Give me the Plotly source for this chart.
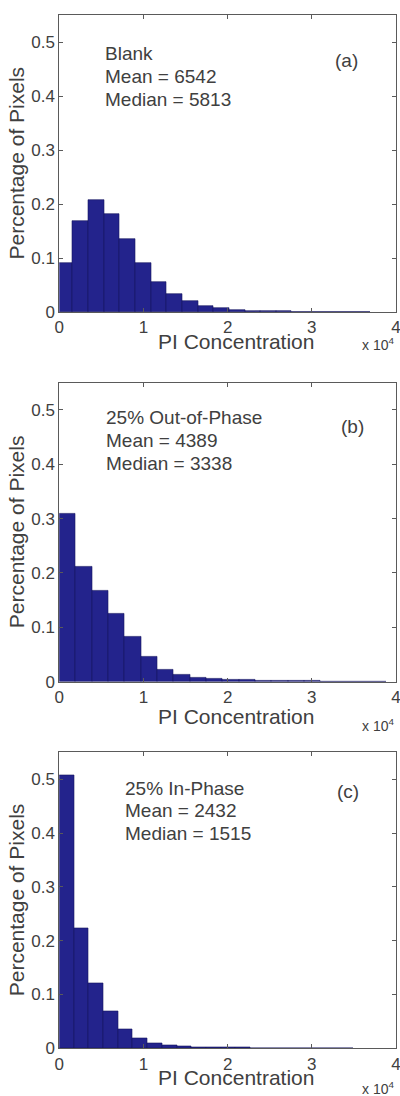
import plotly.graph_objects as go

# ---------------- data ----------------
centers_a = [650, 2510, 4370, 6230, 8090, 9950, 11810, 13670, 15530, 17390,
             19250, 21110, 22970, 24830, 26690, 28550, 30410, 32270, 34130, 35990]
values_a = [0.090, 0.168, 0.207, 0.181, 0.135, 0.090, 0.056, 0.033, 0.020, 0.012,
            0.007, 0.004, 0.0025, 0.0016, 0.0012, 0.0009, 0.0007, 0.0005, 0.0004, 0.0003]

centers_b = [970, 2910, 4850, 6790, 8730, 10670, 12610, 14550, 16490, 18430,
             20370, 22310, 24250, 26190, 28130, 30070, 32010, 33950, 35890, 37830]
values_b = [0.309, 0.212, 0.167, 0.125, 0.083, 0.046, 0.023, 0.0135, 0.008, 0.006,
            0.0043, 0.003, 0.002, 0.0015, 0.0012, 0.001, 0.0008, 0.0006, 0.0005, 0.0004]

centers_c = [873, 2618, 4363, 6108, 7853, 9598, 11343, 13088, 14833, 16578,
             18323, 20068, 21813, 23558, 25303, 27048, 28793, 30538, 32283, 34028]
values_c = [0.508, 0.223, 0.120, 0.068, 0.036, 0.0185, 0.009, 0.006, 0.003, 0.002,
            0.0015, 0.0012, 0.001, 0.0008, 0.0006, 0.0005, 0.0004, 0.0003, 0.0003, 0.0002]

labels_a = ["Blank", "Mean = 6542", "Median = 5813"]
labels_b = ["25% Out-of-Phase", "Mean = 4389", "Median = 3338"]
labels_c = ["25% In-Phase", "Mean = 2432", "Median = 1515"]
panel_tags = ["(a)", "(b)", "(c)"]

x_tickvals = [0, 10000, 20000, 30000, 40000]
x_ticktext = ["0", "1", "2", "3", "4"]
y_tickvals = [0, 0.1, 0.2, 0.3, 0.4, 0.5]
y_ticktext = ["0", "0.1", "0.2", "0.3", "0.4", "0.5"]

# ---------------- layout geometry (pixels) ----------------
W, H = 400, 1096
PL, PR = 59.3, 396.0
panels = [
    dict(top=15.0, bot=312.0, w=1860, ty=[53, 76, 99], tagy=60, tagx=34100, tx=5200,
         xt_y=341, e_y=344),
    dict(top=382.7, bot=681.7, w=1940, ty=[417.3, 440, 463.3], tagy=426.7, tagx=34800, tx=5320,
         xt_y=716, e_y=725),
    dict(top=752.3, bot=1048.3, w=1745, ty=[788.3, 810, 833.3], tagy=791.7, tagx=34300, tx=7580,
         xt_y=1077, e_y=1088),
]
centers = [centers_a, centers_b, centers_c]
values = [values_a, values_b, values_c]
labels = [labels_a, labels_b, labels_c]

FONT = "Liberation Sans, Arial, Helvetica, sans-serif"
TXT = "#404040"
BAR = "#23238c"
EDGE = "#16165e"
AX = "#5a5a5a"

fig = go.Figure()
ann = []
for i, p in enumerate(panels):
    sfx = "" if i == 0 else str(i + 1)
    fig.add_trace(go.Bar(
        x=centers[i], y=values[i], width=p["w"],
        marker=dict(color=BAR, line=dict(color=EDGE, width=0.6)),
        xaxis="x" + sfx, yaxis="y" + sfx, showlegend=False,
    ))
    ydom = [1 - p["bot"] / H, 1 - p["top"] / H]
    xdom = [PL / W, PR / W]
    common = dict(showline=True, linecolor=AX, linewidth=1, mirror="ticks",
                  ticks="inside", ticklen=4, tickcolor=AX, showgrid=False, zeroline=False,
                  ticklabeloverflow="allow", automargin=False,
                  tickfont=dict(family=FONT, size=17, color=TXT))
    fig.update_layout(**{
        "xaxis" + sfx: dict(domain=xdom, range=[0, 40000], tickvals=x_tickvals,
                            ticktext=x_ticktext, anchor="y" + sfx, **common),
        "yaxis" + sfx: dict(domain=ydom, range=[0, 0.55], tickvals=y_tickvals,
                            ticktext=y_ticktext, anchor="x" + sfx, **common),
    })
    for j, t in enumerate(labels[i]):
        yv = (p["bot"] - p["ty"][j]) / (p["bot"] - p["top"]) * 0.55
        ann.append(dict(x=p["tx"], y=yv, xref="x" + sfx, yref="y" + sfx, text=t,
                        showarrow=False, xanchor="left", yanchor="middle",
                        font=dict(family=FONT, size=19, color=TXT)))
    yv = (p["bot"] - p["tagy"]) / (p["bot"] - p["top"]) * 0.55
    ann.append(dict(x=p["tagx"], y=yv, xref="x" + sfx, yref="y" + sfx, text=panel_tags[i],
                    showarrow=False, xanchor="center", yanchor="middle",
                    font=dict(family=FONT, size=19, color=TXT)))
    ann.append(dict(x=236 / W, y=1 - p["xt_y"] / H, xref="paper", yref="paper",
                    text="PI Concentration", showarrow=False, xanchor="center",
                    yanchor="middle", font=dict(family=FONT, size=21, color=TXT)))
    ann.append(dict(x=16 / W, y=1 - (p["top"] + p["bot"]) / 2 / H, xref="paper", yref="paper",
                    text="Percentage of Pixels", showarrow=False, textangle=-90,
                    xanchor="center", yanchor="middle",
                    font=dict(family=FONT, size=21, color=TXT)))
    ann.append(dict(x=360 / W, y=1 - p["e_y"] / H, xref="paper", yref="paper",
                    text="x 10<sup>4</sup>", showarrow=False, xanchor="left",
                    yanchor="middle", font=dict(family=FONT, size=14, color=TXT)))

fig.update_layout(
    width=W, height=H, margin=dict(l=0, r=0, t=0, b=0),
    paper_bgcolor="white", plot_bgcolor="white",
    bargap=0, annotations=ann,
)

fig.write_html("out.html")
